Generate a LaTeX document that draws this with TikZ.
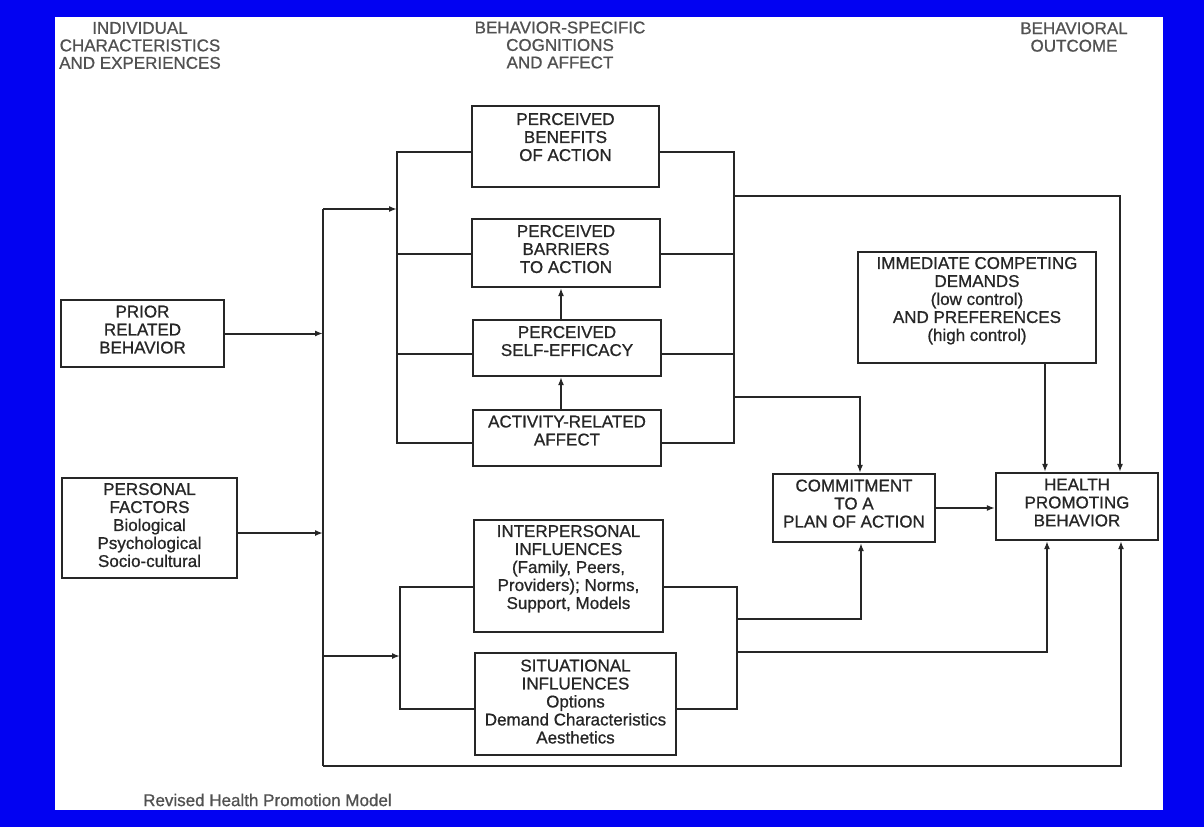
\documentclass[tikz,border=0pt]{standalone}
\usepackage{fontspec}
\setmainfont[FakeBold=0.8]{Liberation Sans}
\usepackage{xcolor}
\usepackage{tikz}
\usetikzlibrary{arrows.meta}
\definecolor{slideblue}{RGB}{2,2,242}
\definecolor{ink}{RGB}{38,38,38}
\tikzset{
factor/.style={draw=ink, line width=2.2pt, align=center, inner sep=2pt,
font=\fontsize{17}{18}\selectfont, text=ink},
heading/.style={align=center, font=\fontsize{17}{17.5}\selectfont, text=ink!80},
link/.style={draw=ink, line width=2pt},
arrow/.style={link, -{Latex[length=8pt,width=6pt]}}
}
\begin{document}
\begin{tikzpicture}[x=1pt,y=-1pt]
\useasboundingbox (0,0) rectangle (1204,827);
\fill[slideblue] (0,0) rectangle (1204,827);
\fill[white] (55,17) rectangle (1163,810);
% column headings
\node[heading](hindiv) at (140,45.5){INDIVIDUAL\\CHARACTERISTICS\\AND EXPERIENCES};
\node[heading](hcogn) at (560,45){BEHAVIOR-SPECIFIC\\COGNITIONS\\AND AFFECT};
\node[heading](hout) at (1074,37){BEHAVIORAL\\OUTCOME};
% boxes
\node[factor,minimum width=163pt,minimum height=67pt,text depth=8pt](prior) at (142.5,333.5){PRIOR\\RELATED\\BEHAVIOR};
\node[factor,minimum width=175pt,minimum height=100pt,text depth=6pt](personal) at (149.5,528){PERSONAL\\FACTORS\\Biological\\Psychological\\Socio-cultural};
\node[factor,minimum width=187pt,minimum height=81pt,text depth=19pt](benefits) at (565.5,146.5){PERCEIVED\\BENEFITS\\OF ACTION};
\node[factor,minimum width=188pt,minimum height=68pt,text depth=8pt](barriers) at (566,253){PERCEIVED\\BARRIERS\\TO ACTION};
\node[factor,minimum width=188pt,minimum height=56pt,text depth=14pt](selfeff) at (567,348){PERCEIVED\\SELF-EFFICACY};
\node[factor,minimum width=188pt,minimum height=56pt,text depth=15pt](activity) at (567,438){ACTIVITY-RELATED\\AFFECT};
\node[factor,minimum width=189pt,minimum height=112pt,text depth=18pt](interp) at (568.5,576){INTERPERSONAL\\INFLUENCES\\(Family, Peers,\\Providers); Norms,\\Support, Models};
\node[factor,minimum width=201pt,minimum height=102pt,text depth=5pt](situ) at (575.5,704){SITUATIONAL\\INFLUENCES\\Options\\Demand Characteristics\\Aesthetics};
\node[factor,minimum width=238pt,minimum height=111pt,text depth=17pt](demands) at (977,307.5){IMMEDIATE COMPETING\\DEMANDS\\(low control)\\AND PREFERENCES\\(high control)};
\node[factor,minimum width=162pt,minimum height=68pt,text depth=9pt](commit) at (854,508){COMMITMENT\\TO A\\PLAN OF ACTION};
\node[factor,minimum width=162pt,minimum height=67pt,text depth=8pt](health) at (1077,506.5){HEALTH\\PROMOTING\\BEHAVIOR};
\node[heading,anchor=west,inner sep=0pt](caption) at (143,800){Revised Health Promotion Model};
% junction points
\coordinate (trunktop) at (323,209);
\coordinate (trunkbot) at (323,766);
\coordinate (upbus) at (397,209);
\coordinate (lowbus) at (400,656);
\coordinate (outtop) at (734,196);
\coordinate (outmid) at (734,397);
\coordinate (outlow1) at (737,619);
\coordinate (outlow2) at (737,652);
% left side
\draw[link](trunktop)--(trunkbot);
\draw[arrow](prior)--(prior-|trunktop);
\draw[arrow]([yshift=-5pt]personal.east)--([yshift=-5pt]personal.east-|trunktop);
\draw[arrow](trunktop)--(upbus);
\draw[arrow](trunktop|-lowbus)--(lowbus);
% cognitions
\draw[link]([yshift=-5pt]benefits.west)-|(upbus)|-([yshift=-5pt]activity.west);
\draw[link]([yshift=-1pt]barriers.west)--([yshift=-1pt]barriers.west-|upbus);
\draw[link]([yshift=-6pt]selfeff.west)--([yshift=-6pt]selfeff.west-|upbus);
\draw[link]([yshift=-5pt]benefits.east)-|(outtop)|-([yshift=-5pt]activity.east);
\draw[link]([yshift=-1pt]barriers.east)--([yshift=-1pt]barriers.east-|outtop);
\draw[link]([yshift=-6pt]selfeff.east)--([yshift=-6pt]selfeff.east-|outtop);
\draw[arrow]([xshift=-6pt]selfeff.north)--([xshift=-6pt]selfeff.north|-barriers.south);
\draw[arrow]([xshift=-6pt]activity.north)--([xshift=-6pt]activity.north|-selfeff.south);
% influences
\draw[link]([yshift=-11pt]interp.west)-|(lowbus)|-([yshift=-5pt]situ.west);
\draw[link]([yshift=-11pt]interp.east)-|(outlow1)|-([yshift=-5pt]situ.east);
% outcome
\draw[arrow](outtop)-|([xshift=43pt]health.north);
\draw[arrow](outmid)-|([xshift=6pt]commit.north);
\draw[arrow](outlow1)-|([xshift=7pt]commit.south);
\draw[arrow](outlow2)-|([xshift=-30pt]health.south);
\draw[arrow](trunkbot)-|([xshift=44pt]health.south);
\draw[arrow]([xshift=-32pt]health.north|-demands.south)--([xshift=-32pt]health.north);
\draw[arrow](commit.east)--(commit.east-|health.west);
\end{tikzpicture}
\end{document}
